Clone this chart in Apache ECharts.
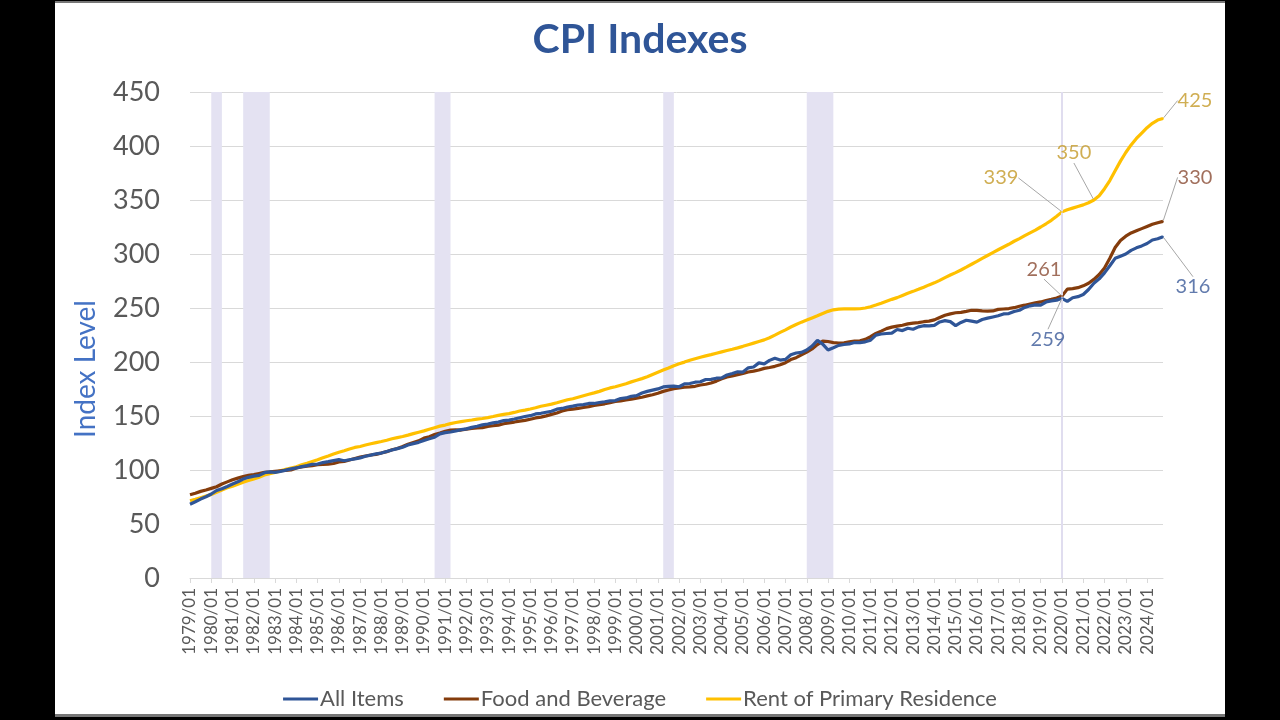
<!DOCTYPE html>
<html>
<head>
<meta charset="utf-8">
<script src="https://cdn.jsdelivr.net/npm/echarts@6/dist/echarts.min.js"></script>
<style>
  html, body { margin: 0; padding: 0; background: #000; }
  #panel { position: absolute; left: 55px; top: 1px; width: 1170px; height: 716px; background: #fff; border-top: 2px solid #777; border-bottom: 3px solid #777; box-sizing: border-box; }
  #chart { position: absolute; left: 0; top: 0; width: 1280px; height: 720px; }
</style>
</head>
<body>
<div id="panel"></div>
<div id="chart"></div>
<script>
// ---- Categories (quarterly, 1979/01 .. 2024/10) ----
const startYear = 1979;
const endYear = 2024;
const quarterMonths = ['01', '04', '07', '10'];
const categories = [];
for (let y = startYear; y <= endYear; y++) {
  for (const m of quarterMonths) categories.push(y + '/' + m);
}

// ---- Series values ----
const allItems = [
  68.3, 70.6, 73.1, 75.2,   77.8, 81.0, 82.7, 84.8,   87.0, 89.1, 91.6, 93.2,   94.3, 95.0, 97.5, 98.2,
  97.8, 98.6, 99.9, 101.0,  101.9, 103.1, 104.1, 105.3, 105.5, 106.9, 107.7, 108.7, 109.6, 108.6, 109.5, 110.3,
  111.2, 112.7, 113.8, 115.0, 115.7, 117.1, 118.5, 119.8, 121.1, 123.1, 124.4, 125.6, 127.4, 128.9, 130.4, 133.5,
  134.6, 135.2, 136.2, 137.4, 138.1, 139.5, 140.5, 141.8, 142.6, 143.6, 144.4, 145.7, 146.2, 147.2, 148.4, 149.5,
  150.3, 151.9, 152.5, 153.5, 154.4, 156.3, 157.0, 158.3, 159.1, 160.2, 160.5, 161.6, 161.6, 162.5, 163.2, 164.0,
  164.3, 166.2, 166.7, 168.2, 168.8, 171.3, 172.8, 174.0, 175.1, 176.9, 177.5, 177.7, 177.1, 179.8, 180.1, 181.3,
  181.7, 183.8, 183.9, 185.0, 185.2, 188.0, 189.4, 190.9, 190.7, 194.6, 195.4, 199.2, 198.3, 201.5, 203.5, 201.8,
  202.4, 206.7, 208.3, 208.9, 211.1, 214.8, 220.0, 216.6, 211.1, 213.2, 215.4, 216.2, 216.7, 218.0, 218.0, 218.7,
  220.2, 224.9, 225.9, 226.4, 226.7, 230.1, 229.1, 231.3, 230.3, 232.5, 233.6, 233.5, 233.9, 237.1, 238.3, 237.4,
  233.7, 236.6, 238.7, 237.8, 236.9, 239.3, 240.6, 241.7, 242.8, 244.5, 244.8, 246.7, 247.9, 250.5, 252.0, 252.9,
  252.6, 255.5, 256.6, 257.3, 259.0, 256.2, 259.5, 260.5, 262.5, 267.1, 273.0, 277.0, 282.5, 289.1, 296.0, 298.0,
  300.0, 303.4, 305.7, 307.5, 309.7, 313.0, 314.1, 316.0
];
const foodBeverage = [
  77.0, 78.5, 80.2, 81.5,   83.0, 84.5, 87.0, 89.0,   91.0, 92.5, 94.0, 95.0,   95.8, 96.8, 97.8, 98.2,
  98.8, 99.3, 99.6, 100.0,  101.8, 102.8, 103.5, 104.0, 104.9, 105.2, 105.5, 106.0, 107.5, 108.0, 109.3, 110.7,
  111.9, 113.0, 113.9, 114.5, 115.8, 117.0, 118.8, 119.9, 121.7, 123.9, 125.5, 127.0, 129.5, 130.8, 132.8, 134.3,
  135.9, 136.9, 137.1, 137.0, 137.9, 138.4, 139.0, 139.2, 140.4, 141.0, 141.6, 142.8, 143.6, 144.4, 145.3, 145.9,
  147.0, 148.2, 149.0, 150.1, 151.5, 152.8, 154.6, 155.8, 156.4, 157.0, 157.9, 158.7, 159.8, 160.5, 161.3, 162.4,
  163.4, 164.0, 164.8, 165.5, 166.5, 167.4, 168.6, 169.7, 171.1, 172.8, 174.1, 175.3, 176.0, 176.6, 176.9, 177.5,
  178.7, 179.4, 180.6, 182.3, 184.4, 186.2, 187.2, 188.3, 189.4, 190.7, 191.5, 192.6, 194.1, 194.9, 196.0, 197.4,
  199.4, 202.3, 204.0, 206.6, 209.1, 212.1, 216.1, 219.3, 219.0, 218.0, 217.6, 217.8, 218.6, 219.3, 219.7, 220.9,
  223.4, 226.4, 228.6, 230.9, 232.3, 233.2, 234.0, 235.3, 236.0, 236.5, 237.3, 237.8, 239.0, 241.2, 243.3, 244.6,
  245.6, 246.0, 246.9, 247.9, 247.8, 247.4, 247.1, 247.3, 248.7, 249.1, 249.5, 250.3, 251.6, 252.6, 253.7, 254.8,
  255.6, 256.9, 258.0, 259.2, 261.0, 267.5, 268.0, 268.8, 270.5, 272.9, 276.5, 281.0, 287.0, 296.0, 306.0, 312.5,
  316.5, 319.5, 321.5, 323.5, 325.5, 327.5, 329.0, 330.2
];
const rentPrimary = [
  71.5, 72.8, 74.3, 75.8,   77.3, 79.3, 81.5, 83.5,   85.0, 86.8, 88.7, 90.2,   91.8, 93.3, 95.3, 96.6,
  97.7, 99.2, 100.6, 101.9, 103.0, 104.8, 106.3, 107.9, 109.5, 111.3, 113.0, 114.8, 116.4, 117.9, 119.5, 120.9,
  121.8, 123.1, 124.3, 125.4, 126.4, 127.6, 128.9, 130.0, 131.0, 132.3, 133.7, 135.0, 136.2, 137.7, 139.2, 140.6,
  141.6, 142.9, 144.0, 144.8, 145.6, 146.3, 147.1, 147.7, 148.5, 149.5, 150.6, 151.5, 152.2, 153.3, 154.6, 155.5,
  156.5, 157.6, 159.0, 160.0, 161.0, 162.3, 163.7, 165.0, 166.0, 167.4, 168.8, 170.1, 171.4, 172.8, 174.6, 176.0,
  177.1, 178.5, 179.9, 181.6, 183.1, 184.6, 186.3, 188.5, 190.5, 192.5, 194.5, 196.6, 198.3, 199.9, 201.6, 203.0,
  204.4, 205.7, 206.8, 208.1, 209.4, 210.6, 211.8, 213.1, 214.5, 216.0, 217.5, 219.0, 220.5, 222.5, 224.9, 227.4,
  229.8, 232.4, 234.7, 236.9, 238.8, 240.8, 242.8, 244.9, 246.9, 248.3, 249.0, 249.1, 249.1, 249.1, 249.3, 250.0,
  251.2, 252.8, 254.5, 256.3, 258.0, 259.6, 261.6, 263.6, 265.4, 267.3, 269.3, 271.4, 273.3, 275.6, 278.1, 280.5,
  282.8, 285.2, 287.8, 290.5, 293.1, 295.9, 298.6, 301.3, 303.9, 306.5, 309.0, 311.8, 314.3, 317.0, 319.6, 322.1,
  325.0, 328.0, 331.2, 335.0, 339.0, 341.0, 342.5, 344.0, 345.5, 347.5, 350.0, 354.0, 360.5, 368.0, 377.0, 386.0,
  394.0, 401.0, 407.0, 412.0, 417.0, 421.0, 424.0, 425.4
];
const seriesNames = ['All Items', 'Food and Beverage', 'Rent of Primary Residence'];
const yTicks = { min: 0, max: 450, step: 50 };

// Recession periods (shaded) and the 2020 marker
const recessions = [
  ['1980/01', '1980/07'],
  ['1981/07', '1982/10'],
  ['1990/07', '1991/04'],
  ['2001/04', '2001/10'],
  ['2008/01', '2009/04']
];
const covidMarker = '2020/01';

// Annotated points: [series index, category, label dx, label dy]
const annotations = [
  [2, '2020/01', -61, -34],
  [2, '2021/07', -20, -47],
  [2, '2024/10', 32, -18],
  [1, '2024/10', 32, -44],
  [1, '2020/01', -18, -27],
  [0, '2020/01', -14, 41],
  [0, '2024/10', 30, 50]
];

const lineColors = ['#2F5597', '#843C0C', '#FFC000'];
const labelColors = ['#3B5A98', '#8A4B33', '#C49A28'];
const seriesData = [allItems, foodBeverage, rentPrimary];
const FONT = 'Lato';

const lineSeries = seriesNames.map((name, i) => ({
  name: name,
  type: 'line',
  data: seriesData[i],
  showSymbol: false,
  symbol: 'none',
  z: 3 + (i === 0 ? 1 : 0),
  lineStyle: { width: 3.2, color: lineColors[i] },
  itemStyle: { color: lineColors[i] },
  emphasis: { disabled: true },
  animation: false
}));
// draw order: rent, food, all items on top
const ordered = [lineSeries[2], lineSeries[1], lineSeries[0]];

const labelSeries = seriesNames.map((name, si) => {
  const items = annotations.filter(a => a[0] === si);
  return {
    name: name + ' labels',
    type: 'scatter',
    symbolSize: 2,
    itemStyle: { color: lineColors[si] },
    z: 6,
    silent: true,
    animation: false,
    data: items.map(a => {
      const idx = categories.indexOf(a[1]);
      return { value: [idx, seriesData[si][idx]] };
    }),
    label: {
      show: true,
      position: 'inside',
      formatter: p => Math.round(p.value[1]).toString(),
      color: labelColors[si],
      fontFamily: FONT,
      fontSize: 20
    },
    labelLine: { show: true, lineStyle: { color: '#A6A6A6', width: 1 } },
    labelLayout: function (params) {
      const item = items[params.dataIndex];
      return { dx: item[2], dy: item[3] };
    }
  };
});

const shadeSeries = {
  name: 'shade',
  type: 'line',
  data: [],
  z: 1,
  silent: true,
  markArea: {
    silent: true,
    itemStyle: { color: '#E4E2F2' },
    data: recessions.map(r => [{ xAxis: r[0] }, { xAxis: r[1] }])
  },
  markLine: {
    silent: true,
    symbol: 'none',
    label: { show: false },
    lineStyle: { color: '#E0DDEF', width: 2, type: 'solid' },
    data: [{ xAxis: covidMarker }]
  }
};

const chart = echarts.init(document.getElementById('chart'), null, { renderer: 'canvas' });
chart.setOption({
  animation: false,
  textStyle: { fontFamily: FONT },
  title: {
    text: 'CPI Indexes',
    left: 'center',
    top: 14,
    textStyle: { fontFamily: FONT, fontSize: 41, fontWeight: 'bold', color: '#2F5597' }
  },
  grid: { left: 190, right: 117, top: 92, bottom: 142, containLabel: false },
  legend: {
    data: seriesNames,
    top: 683,
    left: 'center',
    icon: 'rect',
    itemWidth: 35,
    itemHeight: 3,
    itemGap: 40,
    textStyle: { fontFamily: FONT, fontSize: 22, color: '#595959', padding: [0, 0, 0, -3] }
  },
  xAxis: {
    type: 'category',
    data: categories,
    boundaryGap: false,
    axisLine: { lineStyle: { color: '#D9D9D9', width: 1 } },
    axisTick: { show: true, interval: 3, length: 5, lineStyle: { color: '#D9D9D9' } },
    axisLabel: { interval: 3, rotate: 90, margin: 10, fontFamily: FONT, fontSize: 17, color: '#595959' },
    splitLine: { show: false }
  },
  yAxis: {
    type: 'value',
    min: yTicks.min,
    max: yTicks.max,
    interval: yTicks.step,
    axisLine: { show: false },
    axisTick: { show: false },
    axisLabel: { margin: 30, fontFamily: FONT, fontSize: 27, color: '#595959' },
    splitLine: { lineStyle: { color: '#D9D9D9', width: 1 } }
  },
  graphic: [{
    type: 'text',
    x: 86,
    y: 369,
    rotation: Math.PI / 2,
    style: {
      text: 'Index Level',
      fontFamily: FONT,
      fontSize: 28,
      fill: '#4472C4',
      textAlign: 'center',
      textVerticalAlign: 'middle'
    }
  }],
  series: [shadeSeries].concat(ordered, labelSeries)
});
</script>
</body>
</html>
